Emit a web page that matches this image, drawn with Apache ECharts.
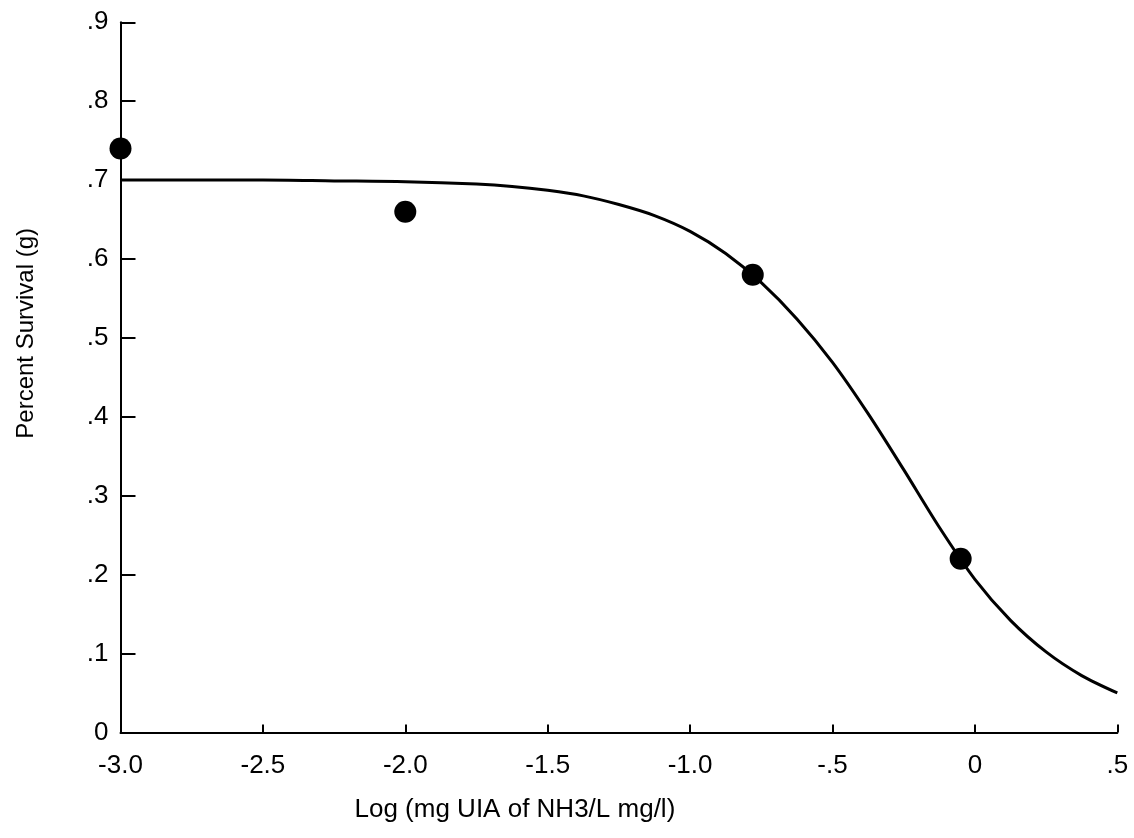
<!DOCTYPE html>
<html>
<head>
<meta charset="utf-8">
<title>Percent Survival</title>
<script src="https://cdn.jsdelivr.net/npm/echarts@6/dist/echarts.min.js"></script>
<style>
  html, body { margin: 0; padding: 0; background: #fff; }
  #chart { width: 1134px; height: 838px; }
</style>
</head>
<body>
<div id="chart"></div>
<script>
// observed points
const obsX = [-3.0, -2.0, -0.78, -0.05];
const obsY = [0.74, 0.66, 0.58, 0.22];

// fitted curve
const curveX = [-3.0, -2.75, -2.5, -2.25, -2.0, -1.75, -1.625, -1.5, -1.375, -1.25, -1.125, -1.0, -0.875, -0.75, -0.625, -0.5, -0.375, -0.25, -0.125, 0.0, 0.125, 0.25, 0.375, 0.5];
const curveY = [0.700, 0.700, 0.700, 0.699, 0.698, 0.695, 0.692, 0.687, 0.680, 0.669, 0.655, 0.635, 0.607, 0.570, 0.524, 0.469, 0.404, 0.333, 0.260, 0.194, 0.142, 0.102, 0.072, 0.050];

// tick labels
const xTickLabels = ['-3.0', '-2.5', '-2.0', '-1.5', '-1.0', '-.5', '0', '.5'];
const yTickLabels = ['0', '.1', '.2', '.3', '.4', '.5', '.6', '.7', '.8', '.9'];

const xMin = -3.0, xMax = 0.5, xStep = 0.5;
const yMin = 0, yMax = 0.9, yStep = 0.1;

const chart = echarts.init(document.getElementById('chart'));

const font = "'Liberation Sans', Arial, sans-serif";

chart.setOption({
  backgroundColor: '#fff',
  animation: false,
  grid: { left: 120.5, right: 16.7, top: 22.3, bottom: 105.6 },
  xAxis: {
    type: 'value',
    min: xMin, max: xMax, interval: xStep,
    name: 'Log (mg UIA of NH3/L mg/l)',
    nameLocation: 'middle',
    nameGap: 64,
    nameTextStyle: { fontFamily: font, fontSize: 26, color: '#000', padding: [0, 208, 0, 0] },
    axisLine: { onZero: false, lineStyle: { color: '#000', width: 2 } },
    axisTick: { inside: true, length: 8, lineStyle: { color: '#000', width: 2 } },
    axisLabel: {
      color: '#000', fontFamily: font, fontSize: 26, margin: 20,
      formatter: v => xTickLabels[Math.round((v - xMin) / xStep)]
    },
    splitLine: { show: false }
  },
  yAxis: {
    type: 'value',
    min: yMin, max: yMax, interval: yStep,
    name: 'Percent Survival (g)',
    nameLocation: 'middle',
    nameGap: 82,
    nameTextStyle: { fontFamily: font, fontSize: 24, color: '#000', padding: [0, 0, 0, 88] },
    axisLine: { onZero: false, lineStyle: { color: '#000', width: 2 } },
    axisTick: { inside: true, length: 15, lineStyle: { color: '#000', width: 2 } },
    axisLabel: {
      color: '#000', fontFamily: font, fontSize: 26, margin: 12,
      formatter: v => yTickLabels[Math.round((v - yMin) / yStep)]
    },
    splitLine: { show: false }
  },
  series: [
    {
      type: 'line',
      data: curveX.map((x, i) => [x, curveY[i]]),
      smooth: 0.3,
      showSymbol: false,
      clip: false,
      lineStyle: { color: '#000', width: 3 },
      z: 2
    },
    {
      type: 'scatter',
      data: obsX.map((x, i) => [x, obsY[i]]),
      symbol: 'circle',
      symbolSize: 22,
      clip: false,
      itemStyle: { color: '#000', opacity: 1 },
      z: 3
    }
  ]
});
</script>
</body>
</html>
